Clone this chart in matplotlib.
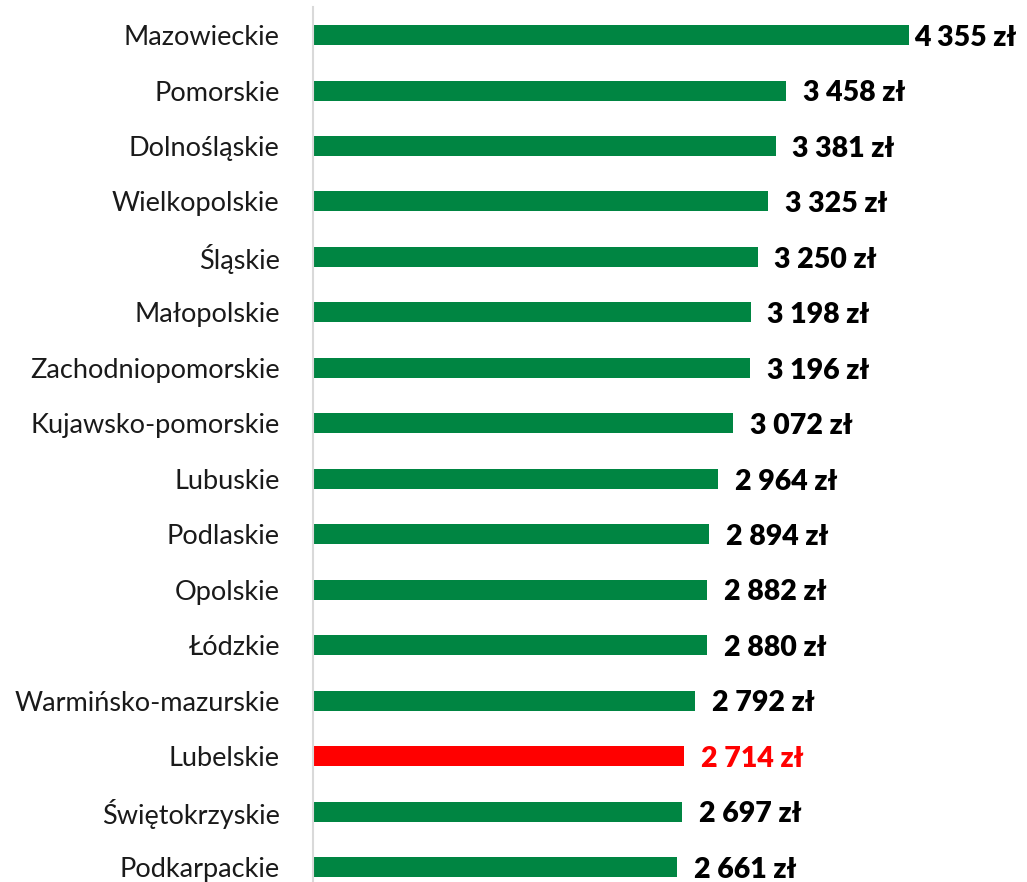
import matplotlib
matplotlib.use('Agg')
import matplotlib.pyplot as plt

regions = ['Mazowieckie', 'Pomorskie', 'Dolnośląskie', 'Wielkopolskie', 'Śląskie',
           'Małopolskie', 'Zachodniopomorskie', 'Kujawsko-pomorskie', 'Lubuskie',
           'Podlaskie', 'Opolskie', 'Łódzkie', 'Warmińsko-mazurskie', 'Lubelskie',
           'Świętokrzyskie', 'Podkarpackie']
values = [4355, 3458, 3381, 3325, 3250, 3198, 3196, 3072, 2964,
          2894, 2882, 2880, 2792, 2714, 2697, 2661]
highlight = 'Lubelskie'

plt.rcParams['font.family'] = ['Lato', 'DejaVu Sans']

green = '#008542'
red = '#ff0000'

fig = plt.figure(figsize=(10.27, 8.82), dpi=100)
ax = fig.add_axes([0.3048, 0.0, 0.666, 0.9917])

colors = [red if r == highlight else green for r in regions]
ypos = list(range(len(regions)))
bars = ax.barh(ypos, values, height=0.36, color=colors)

ax.set_xlim(0, 5000)
ax.set_ylim(15.27, -0.5)
ax.set_yticks(ypos)
ax.set_yticklabels(regions, fontsize=19.5, color='#1a1a1a')
ax.tick_params(axis='y', length=0, pad=24)
ax.set_xticks([])

for s in ['top', 'right', 'bottom']:
    ax.spines[s].set_visible(False)
ax.spines['left'].set_color('#d9d9d9')
ax.spines['left'].set_linewidth(1.5)

for i, (r, v) in enumerate(zip(regions, values)):
    lab = '{:,} zł'.format(v).replace(',', ' ')
    off = 4 if i == 0 else 12
    ax.annotate(lab, (v, i), xytext=(off, -2), textcoords='offset points',
                va='center', ha='left', fontsize=20.5, fontweight='heavy',
                color=red if r == highlight else 'black')

fig.savefig('out.png', dpi=100)
